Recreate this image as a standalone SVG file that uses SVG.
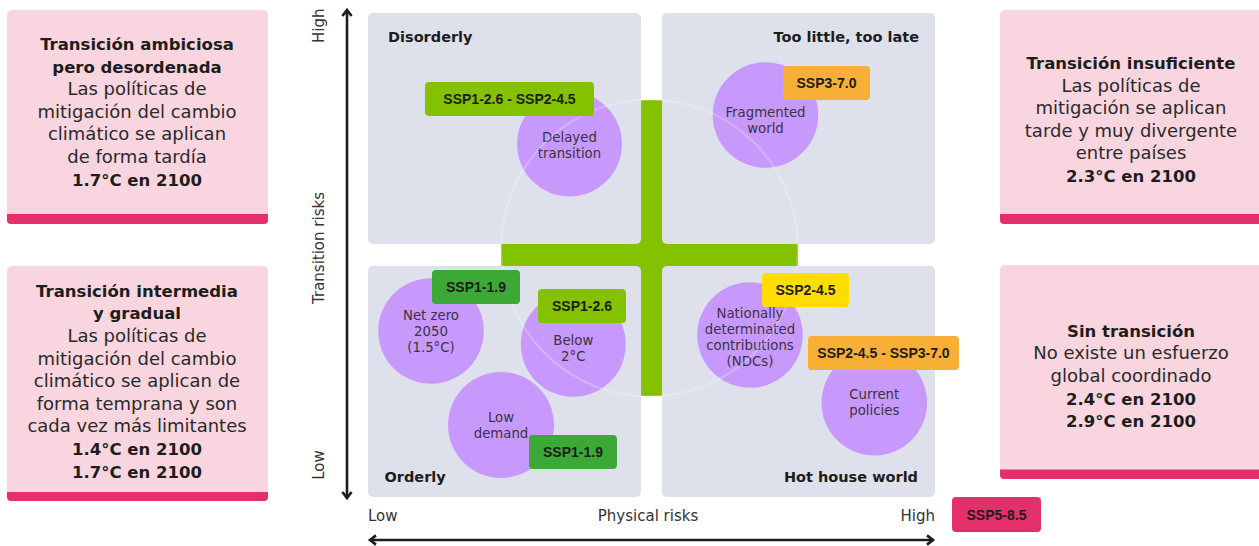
<svg xmlns="http://www.w3.org/2000/svg" width="1259" height="546" viewBox="0 0 1259 546">
<style>
.pink{fill:#F9D5DF}
.band{fill:#E4306A}
.panel{fill:#DEE1EB}
.bubble{fill:#C899FD}
.h{font-family:'DejaVu Sans',sans-serif;font-weight:bold;font-size:16.5px;fill:#1d1d1b;text-anchor:middle}
.b{font-family:'DejaVu Sans',sans-serif;font-size:18px;fill:#2a2a2a;text-anchor:middle}
.ql{font-family:'DejaVu Sans',sans-serif;font-weight:bold;font-size:14.5px;fill:#1d1d1b}
.ct{font-family:'DejaVu Sans',sans-serif;font-size:13.3px;fill:#3a3340;text-anchor:middle}
.tg{font-family:'Liberation Sans',Arial,sans-serif;font-weight:bold;font-size:14px;fill:#1d1d1b;text-anchor:middle}
.ax{font-family:'DejaVu Sans',sans-serif;font-size:15px;fill:#333}
.lime{fill:#84C200}
.dkg{fill:#3CA936}
.yel{fill:#FFDD00}
.org{fill:#F7AF35}
.red{fill:#E4306A}
.axis{stroke:#1d1d1b;stroke-width:2.6;fill:none}
</style>
<defs>
<marker id="chev" viewBox="-9 -7 12 14" refX="0" refY="0" markerWidth="12" markerHeight="14" markerUnits="userSpaceOnUse" orient="auto-start-reverse">
<path d="M-6,-4.6 L0,0 L-6,4.6" fill="none" stroke="#1d1d1b" stroke-width="2.6"/>
</marker>
</defs>

<!-- left info boxes -->
<g id="box-ambiciosa">
<rect class="pink" x="7" y="10" width="261" height="214" rx="5"/>
<path class="band" d="M7,214 H268 V220 Q268,224 264,224 H11 Q7,224 7,220 Z"/>
<text class="h" x="137" y="50">Transición ambiciosa</text>
<text class="h" x="137" y="72.6">pero desordenada</text>
<text class="b" x="137" y="95.2">Las políticas de</text>
<text class="b" x="137" y="117.8">mitigación del cambio</text>
<text class="b" x="137" y="140.4">climático se aplican</text>
<text class="b" x="137" y="163">de forma tardía</text>
<text class="h" x="137" y="185.6">1.7°C en 2100</text>
</g>

<g id="box-intermedia">
<rect class="pink" x="7" y="266" width="261" height="235" rx="5"/>
<path class="band" d="M7,492 H268 V497 Q268,501 264,501 H11 Q7,501 7,497 Z"/>
<text class="h" x="137" y="296.7">Transición intermedia</text>
<text class="h" x="137" y="319.3">y gradual</text>
<text class="b" x="137" y="342">Las políticas de</text>
<text class="b" x="137" y="364.6">mitigación del cambio</text>
<text class="b" x="137" y="387.2">climático se aplican de</text>
<text class="b" x="137" y="409.8">forma temprana y son</text>
<text class="b" x="137" y="432.4">cada vez más limitantes</text>
<text class="h" x="137" y="455">1.4°C en 2100</text>
<text class="h" x="137" y="477.6">1.7°C en 2100</text>
</g>

<!-- right info boxes -->
<g id="box-insuficiente">
<rect class="pink" x="1000" y="10" width="265" height="214" rx="5"/>
<path class="band" d="M1000,214 H1265 V224 H1004 Q1000,224 1000,220 Z"/>
<text class="h" x="1131" y="69">Transición insuficiente</text>
<text class="b" x="1131" y="91.6">Las políticas de</text>
<text class="b" x="1131" y="114.2">mitigación se aplican</text>
<text class="b" x="1131" y="136.8">tarde y muy divergente</text>
<text class="b" x="1131" y="159.4">entre países</text>
<text class="h" x="1131" y="182">2.3°C en 2100</text>
</g>

<g id="box-sin-transicion">
<rect class="pink" x="1000" y="265" width="265" height="214" rx="5"/>
<path class="band" d="M1000,469.5 H1265 V479 H1004 Q1000,479 1000,475 Z"/>
<text class="h" x="1131" y="336.7">Sin transición</text>
<text class="b" x="1131" y="359.3">No existe un esfuerzo</text>
<text class="b" x="1131" y="381.9">global coordinado</text>
<text class="h" x="1131" y="404.5">2.4°C en 2100</text>
<text class="h" x="1131" y="427">2.9°C en 2100</text>
</g>

<!-- central green square behind quadrants -->
<g id="center-cross">
<rect class="lime" x="501" y="100" width="297" height="296"/>
</g>

<!-- quadrants -->
<g id="q-disorderly">
<rect class="panel" x="368" y="13" width="273" height="231" rx="5"/>
<text class="ql" x="388" y="41.5">Disorderly</text>
</g>
<g id="q-too-little">
<rect class="panel" x="662" y="13" width="273" height="231" rx="5"/>
<text class="ql" x="919" y="41.5" text-anchor="end">Too little, too late</text>
</g>
<g id="q-orderly">
<rect class="panel" x="368" y="266" width="273" height="231" rx="5"/>
<text class="ql" x="384.5" y="481.5">Orderly</text>
</g>
<g id="q-hot-house">
<rect class="panel" x="662" y="266" width="273" height="231" rx="5"/>
<text class="ql" x="918" y="481.5" text-anchor="end">Hot house world</text>
</g>

<!-- scenario bubbles -->
<g id="s-delayed">
<circle class="bubble" cx="569.5" cy="144" r="52.5"/>
<text class="ct" x="569.5" y="141.5">Delayed</text>
<text class="ct" x="569.5" y="157.5">transition</text>
</g>
<g id="s-fragmented">
<circle class="bubble" cx="765.5" cy="115" r="52.8"/>
<text class="ct" x="765.5" y="117">Fragmented</text>
<text class="ct" x="765.5" y="133">world</text>
</g>
<g id="s-netzero">
<circle class="bubble" cx="431" cy="331" r="52.8"/>
<text class="ct" x="431" y="320">Net zero</text>
<text class="ct" x="431" y="336">2050</text>
<text class="ct" x="431" y="352">(1.5°C)</text>
</g>
<g id="s-below2">
<circle class="bubble" cx="573.3" cy="344.3" r="52.5"/>
<text class="ct" x="573.3" y="345">Below</text>
<text class="ct" x="573.3" y="361">2°C</text>
</g>
<g id="s-lowdemand">
<circle class="bubble" cx="501" cy="425" r="53"/>
<text class="ct" x="501" y="421.7">Low</text>
<text class="ct" x="501" y="437.5">demand</text>
</g>
<g id="s-ndcs">
<circle class="bubble" cx="750" cy="335" r="52.8"/>
<text class="ct" x="750" y="317.7">Nationally</text>
<text class="ct" x="750" y="333.8">determinated</text>
<text class="ct" x="750" y="349.9">contributions</text>
<text class="ct" x="750" y="366">(NDCs)</text>
</g>
<g id="s-current">
<circle class="bubble" cx="874.3" cy="402.7" r="52.8"/>
<text class="ct" x="874.3" y="399">Current</text>
<text class="ct" x="874.3" y="415">policies</text>
</g>

<!-- faint ring -->
<circle cx="649.5" cy="248" r="148.5" fill="none" stroke="#ffffff" stroke-opacity="0.25" stroke-width="2"/>

<!-- SSP tags -->
<g id="t-ssp126-245">
<rect class="lime" x="425" y="82" width="169" height="34" rx="4"/>
<text class="tg" x="509.5" y="104">SSP1-2.6 - SSP2-4.5</text>
</g>
<g id="t-ssp370">
<rect class="org" x="783" y="66" width="87" height="34" rx="4"/>
<text class="tg" x="826.5" y="88">SSP3-7.0</text>
</g>
<g id="t-ssp119-a">
<rect class="dkg" x="432" y="270" width="88" height="34" rx="4"/>
<text class="tg" x="476" y="292">SSP1-1.9</text>
</g>
<g id="t-ssp126">
<rect class="lime" x="538" y="289" width="88" height="34" rx="4"/>
<text class="tg" x="582" y="311">SSP1-2.6</text>
</g>
<g id="t-ssp119-b">
<rect class="dkg" x="529" y="435" width="88" height="34" rx="4"/>
<text class="tg" x="573" y="457">SSP1-1.9</text>
</g>
<g id="t-ssp245">
<rect class="yel" x="762" y="273" width="87" height="34" rx="4"/>
<text class="tg" x="805.5" y="295">SSP2-4.5</text>
</g>
<g id="t-ssp245-370">
<rect class="org" x="808" y="336" width="151" height="34" rx="4"/>
<text class="tg" x="883.5" y="358">SSP2-4.5 - SSP3-7.0</text>
</g>
<g id="t-ssp585">
<rect class="red" x="952" y="497" width="89" height="35" rx="4"/>
<text class="tg" x="996.5" y="519.5">SSP5-8.5</text>
</g>

<!-- axes -->
<g id="connectors">
<line class="axis" x1="347" y1="10" x2="347" y2="498" marker-start="url(#chev)" marker-end="url(#chev)"/>
<line class="axis" x1="370" y1="540" x2="933" y2="540" marker-start="url(#chev)" marker-end="url(#chev)"/>
</g>
<g id="axis-labels">
<text class="ax" text-anchor="middle" transform="translate(324,25.8) rotate(-90)">High</text>
<text class="ax" text-anchor="middle" transform="translate(324,248) rotate(-90)">Transition risks</text>
<text class="ax" text-anchor="middle" transform="translate(324,465) rotate(-90)">Low</text>
<text class="ax" x="368" y="521">Low</text>
<text class="ax" x="648" y="521" text-anchor="middle">Physical risks</text>
<text class="ax" x="935" y="521" text-anchor="end">High</text>
</g>
</svg>
